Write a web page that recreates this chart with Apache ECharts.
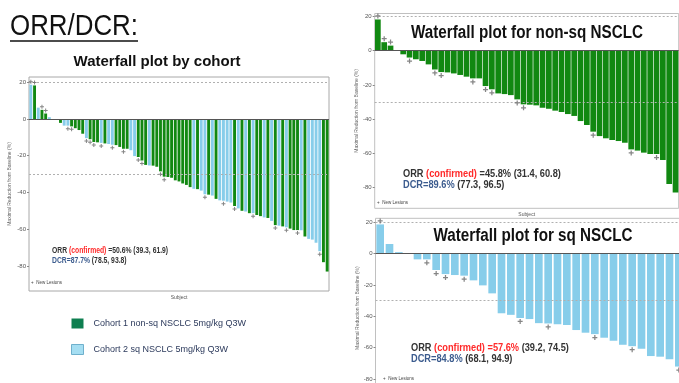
<!DOCTYPE html>
<html><head><meta charset="utf-8">
<script src="https://cdn.jsdelivr.net/npm/echarts@6/dist/echarts.min.js"></script>
<style>html,body{margin:0;padding:0;background:#fff}#c{width:679px;height:383px}</style>
</head><body><div id="c"></div>
<script>
// ---- data ----
const nonSqValues = [18.3, 5, 3, 0, -2.1, -4, -5, -6, -8, -11, -12.5, -12.7, -13.3, -14.2, -15.2, -16.2, -16.2,
  -20.7, -22.6, -25, -25.4, -26, -28.5, -31.4, -31.6, -32, -33.4, -34, -35.1, -35.9, -37.1, -38.2, -41.2, -43.5,
  -47.4, -50, -51.3, -52.3, -52.9, -53.9, -57.8, -58.5, -59.7, -60.5, -60.5, -64, -78, -83.1];
const nonSqNewLesion = [1, 2, 3, 6, 10, 11, 16, 18, 19, 23, 24, 35, 41, 45];
const sqValues = [18.7, 6.2, 1, 0, -3.6, -3.6, -10.4, -13, -13.6, -14, -17, -20.2, -25.3, -38, -39, -41, -41.7,
  -44.3, -44.5, -45, -45.5, -48.7, -50.4, -51.3, -53.6, -55.5, -58.1, -59, -60.6, -65.3, -65.7, -67.4, -72];
const sqNewLesion = [1, 6, 7, 8, 10, 16, 19, 24, 28, 33];
const yTicks = [20, 0, -20, -40, -60, -80];
const refLines = [20, -30];
const cohortNames = ['Cohort 1 non-sq NSCLC 5mg/kg Q3W', 'Cohort 2 sq NSCLC 5mg/kg Q3W'];
const chartTitles = ['Waterfall plot by cohort', 'Waterfall plot for non-sq NSCLC', 'Waterfall plot for sq NSCLC'];
const orrText = ['=50.6%', '=45.8%', '=57.6%'];
const orrCI = ['(39.3, 61.9)', '(31.4, 60.8)', '(39.2, 74.5)'];
const dcrText = ['DCR=87.7%', 'DCR=89.6%', 'DCR=84.8%'];
const dcrCI = ['(78.5, 93.8)', '(77.3, 96.5)', '(68.1, 94.9)'];

// ---- styling ----
const GREEN = '#118811', BLUE = '#87cdea';
const SANS = '"Liberation Sans", Arial, sans-serif';

const merged = [];
nonSqValues.forEach((v, i) => merged.push({v, c: 0, nl: nonSqNewLesion.includes(i + 1)}));
sqValues.forEach((v, i) => merged.push({v, c: 1, nl: sqNewLesion.includes(i + 1)}));
merged.sort((a, b) => b.v - a.v);

function xAx(gi, n) {
  return {type: 'category', gridIndex: gi, data: Array.from({length: n}, (_, i) => String(i + 1)),
    axisLine: {show: false}, axisTick: {show: false}, axisLabel: {show: false},
    name: 'Subject', nameLocation: 'middle', nameGap: 4,
    nameTextStyle: {fontSize: 5, color: '#555', fontFamily: SANS}};
}
function yAx(gi, min, max, nameGap) {
  return {type: 'value', gridIndex: gi, min, max,
    name: 'Maximal Reduction from Baseline (%)', nameLocation: 'middle', nameRotate: 90, nameGap,
    nameTextStyle: {fontSize: 5, color: '#666', fontFamily: SANS},
    axisLine: {show: false}, splitLine: {show: false},
    axisTick: {show: true, customValues: yTicks, length: 2, lineStyle: {color: '#888'}},
    axisLabel: {customValues: yTicks, fontSize: 6, color: '#555', margin: 3, fontFamily: SANS}};
}
function markLine() {
  return {silent: true, symbol: 'none', label: {show: false}, animation: false,
    data: [{yAxis: 0, lineStyle: {color: '#555', type: 'solid', width: 1}}]
      .concat(refLines.map(y => ({yAxis: y, lineStyle: {color: '#b0b0b0', type: [2, 2], width: 1}})))};
}
function markers(list, gi, off, size) {
  return {type: 'scatter', xAxisIndex: gi, yAxisIndex: gi, z: 5, silent: true,
    symbol: 'path://M3,0h2v3h3v2h-3v3h-2v-3h-3v-2h3z', symbolSize: size,
    itemStyle: {color: '#666'},
    data: list.map((d, i) => d.nl ? {value: [i, d.v], symbolOffset: [0, d.v >= 0 ? -off : off]} : null).filter(Boolean)};
}
const nsList = nonSqValues.map((v, i) => ({v, nl: nonSqNewLesion.includes(i + 1)}));
const sqList = sqValues.map((v, i) => ({v, nl: sqNewLesion.includes(i + 1)}));

function statText(i, x, y, size, gap, sx, redValue) {
  const rich = {
    k: {fill: '#333', fontSize: size, fontWeight: 'bold', fontFamily: SANS},
    r: {fill: '#ff2a2a', fontSize: size, fontWeight: 'bold', fontFamily: SANS},
    b: {fill: '#3b5b8e', fontSize: size, fontWeight: 'bold', fontFamily: SANS}
  };
  const l1 = '{k|ORR }{r|(confirmed) }' + (redValue ? '{r|' + orrText[i] + '}' : '{k|' + orrText[i] + '}') + '{k| ' + orrCI[i] + '}';
  const l2 = '{b|' + dcrText[i] + '}{k| ' + dcrCI[i] + '}';
  return [
    {type: 'text', x, y: y, scaleX: sx, style: {text: l1, rich, textVerticalAlign: 'middle', textAlign: 'left'}},
    {type: 'text', x, y: y + gap, scaleX: sx, style: {text: l2, rich, textVerticalAlign: 'middle', textAlign: 'left'}}
  ];
}
function newLesionText(x, y) {
  return {type: 'text', x, y, style: {text: '+  New Lesions', fill: '#444', font: '4.5px ' + SANS, textVerticalAlign: 'middle'}};
}

const chart = echarts.init(document.getElementById('c'));
chart.setOption({
  animation: false,
  backgroundColor: '#fff',
  grid: [
    {left: 29, top: 77, width: 300, height: 214, show: true, borderColor: '#a8a8a8', borderWidth: 1, outerBoundsMode: 'none', containLabel: false},
    {left: 374.7, top: 13.5, width: 304, height: 194.8, show: true, borderColor: '#c0c0c0', borderWidth: 1, outerBoundsMode: 'none', containLabel: false},
    {left: 375.5, top: 218.3, width: 308, height: 179.6, show: true, borderColor: '#c0c0c0', borderWidth: 1, outerBoundsMode: 'none', containLabel: false}
  ],
  xAxis: [xAx(0, merged.length), xAx(1, nonSqValues.length), xAx(2, sqValues.length)],
  yAxis: [yAx(0, -93.7, 22.9, 17), yAx(1, -92.3, 21.8, 15), yAx(2, -92, 22.6, 15)],
  legend: {
    data: [
      {name: cohortNames[0], itemStyle: {color: '#0e7f50'}},
      {name: cohortNames[1], itemStyle: {color: '#a5def2', borderColor: '#6fb0cc', borderWidth: 1}}
    ],
    orient: 'vertical', left: 66, top: 313.5, itemWidth: 12, itemHeight: 10, itemGap: 15.5, icon: 'rect',
    selectedMode: false,
    textStyle: {fontSize: 9, color: '#2c3a5c', fontFamily: SANS, padding: [0, 0, 0, 5]}
  },
  series: [
    {name: cohortNames[0], type: 'bar', xAxisIndex: 0, yAxisIndex: 0, barGap: '-100%', barCategoryGap: '22%',
      itemStyle: {color: GREEN}, data: merged.map(d => d.c === 0 ? d.v : '-'), markLine: markLine()},
    {name: cohortNames[1], type: 'bar', xAxisIndex: 0, yAxisIndex: 0, barGap: '-100%', barCategoryGap: '22%',
      itemStyle: {color: BLUE}, data: merged.map(d => d.c === 1 ? d.v : '-')},
    markers(merged, 0, 3, 4),
    {name: 'nonsq', type: 'bar', xAxisIndex: 1, yAxisIndex: 1, barCategoryGap: '10%',
      itemStyle: {color: GREEN}, data: nonSqValues, markLine: markLine()},
    markers(nsList, 1, 3.5, 5),
    {name: 'sq', type: 'bar', xAxisIndex: 2, yAxisIndex: 2, barCategoryGap: '18%',
      itemStyle: {color: BLUE}, data: sqValues, markLine: markLine()},
    markers(sqList, 2, 3.5, 5)
  ],
  graphic: [
    {type: 'text', x: 10, y: 27, scaleX: 0.863, style: {text: 'ORR/DCR:', fill: '#111', font: '30px ' + SANS, textVerticalAlign: 'middle'}},
    {type: 'line', shape: {x1: 10, y1: 41, x2: 138, y2: 41}, style: {stroke: '#111', lineWidth: 1.5}},
    {type: 'text', x: 157, y: 62, style: {text: chartTitles[0], fill: '#111', font: 'bold 15px ' + SANS, textAlign: 'center', textVerticalAlign: 'middle'}},
    {type: 'text', x: 527, y: 33.3, scaleX: 0.87, style: {text: chartTitles[1], fill: '#111', font: 'bold 17.5px ' + SANS, textAlign: 'center', textVerticalAlign: 'middle'}},
    {type: 'text', x: 533, y: 235.7, scaleX: 0.87, style: {text: chartTitles[2], fill: '#111', font: 'bold 17.5px ' + SANS, textAlign: 'center', textVerticalAlign: 'middle'}},
    ...statText(0, 52, 251, 9, 9.7, 0.755, false),
    ...statText(1, 403, 174, 11, 10.5, 0.84, false),
    ...statText(2, 411, 347.7, 11, 11.6, 0.84, true),
    newLesionText(31, 283),
    newLesionText(377, 203),
    newLesionText(383, 379)
  ]
});
</script></body></html>
